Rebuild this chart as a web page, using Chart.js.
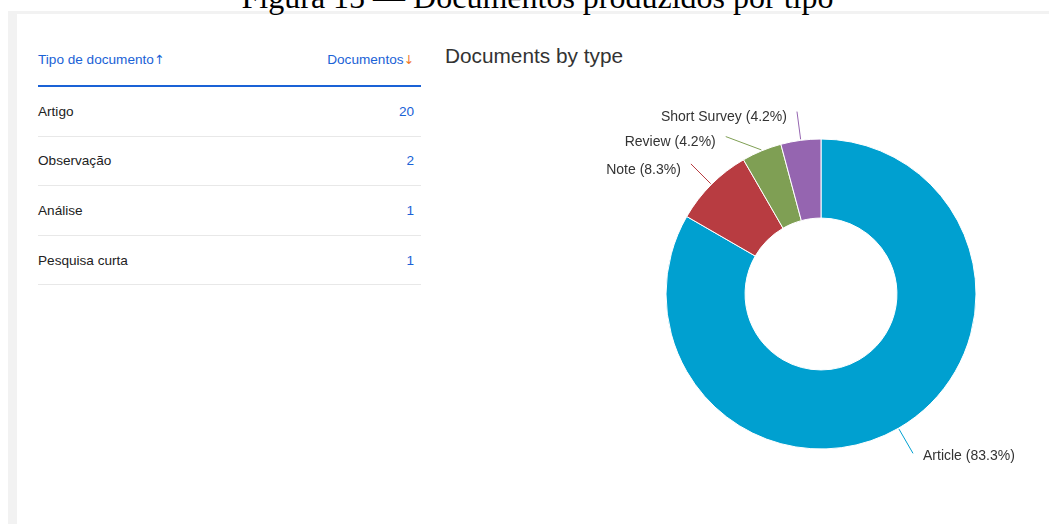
<!DOCTYPE html>
<html>
<head>
<meta charset="utf-8">
<script src="https://cdn.jsdelivr.net/npm/chart.js@4.4.1/dist/chart.umd.min.js"></script>
<style>
  html, body { margin: 0; padding: 0; width: 1049px; height: 524px; overflow: hidden; background: #fff; }
  body { position: relative; font-family: "Liberation Sans", Arial, sans-serif; }
  .fig-title {
    position: absolute; left: 0; top: -19px; width: 1075px; text-align: center;
    font-family: "Liberation Serif", "Times New Roman", serif; font-size: 32px; line-height: 32px;
    color: #000; white-space: nowrap; z-index: 3;
  }
  .frame { position: absolute; left: 8px; top: 11px; right: 0; bottom: 0; background: #f2f2f2; }
  .panel { position: absolute; left: 17px; top: 14px; right: 0; bottom: 0; background: #fff; }
  .doc-table {
    position: absolute; left: 38px; top: 34px; width: 383px;
    border-collapse: collapse; font-size: 13.6px; color: #222;
  }
  .doc-table th {
    height: 51px; padding: 0 7px 0 0; font-weight: normal; color: #1a62d6;
    border-bottom: 2px solid #1a62d6; vertical-align: middle; white-space: nowrap;
  }
  .doc-table th.left, .doc-table td.left { text-align: left; padding-left: 0; }
  .doc-table th.right, .doc-table td.right { text-align: right; }
  .doc-table td { height: 48.6px; padding: 0 7px 0 0; border-bottom: 1px solid #e8e8e8; vertical-align: middle; }
  .doc-table td.right { color: #1a62d6; }
  .arrow { font-family: "DejaVu Sans", sans-serif; font-size: 12.5px; }
  .sort-down { color: #f07a2a; }
  .chart-title {
    position: absolute; left: 445px; top: 44px; font-size: 20.8px; line-height: 24px; color: #333;
  }
  #donut { position: absolute; left: 440px; top: 30px; }
</style>
</head>
<body>
<div class="fig-title">Figura 15 — Documentos produzidos por tipo</div>
<div class="frame"></div>
<div class="panel"></div>
<table class="doc-table" id="docTable"></table>
<div class="chart-title">Documents by type</div>
<canvas id="donut" width="609" height="494"></canvas>

<script>
// table (Portuguese) and chart (English) data
const tableHeader = ['Tipo de documento', 'Documentos'];
const tableTypes  = ['Artigo', 'Observação', 'Análise', 'Pesquisa curta'];
const tableCounts = [20, 2, 1, 1];

const chartLabels = ['Article', 'Note', 'Review', 'Short Survey'];
const chartValues = [20, 2, 1, 1];
const chartColors = ['#00a0d0', '#b83c41', '#7f9f54', '#9565b0'];

function renderTable() {
  const head = `
    <tr>
      <th class="left">${tableHeader[0]}<span class="arrow">↑</span></th>
      <th class="right">${tableHeader[1]}<span class="arrow sort-down">↓</span></th>
    </tr>`;
  const rows = tableTypes.map((name, i) => `
    <tr>
      <td class="left">${name}</td>
      <td class="right">${tableCounts[i]}</td>
    </tr>`).join('');
  document.getElementById('docTable').innerHTML = head + rows;
}

// labels outside the ring with leader lines, stacked so they don't overlap
const outsideLabels = {
  id: 'outsideLabels',
  afterDatasetsDraw(chart) {
    const meta  = chart.getDatasetMeta(0);
    const data  = chart.data.datasets[0].data;
    const total = data.reduce((a, b) => a + b, 0);
    const ctx   = chart.ctx;

    const items = meta.data.map((arc, i) => {
      const p   = arc.getProps(['x', 'y', 'startAngle', 'endAngle', 'outerRadius'], true);
      const mid = (p.startAngle + p.endAngle) / 2;
      const rr  = p.outerRadius + 29;
      return { i, cx: p.x, cy: p.y, mid, r: p.outerRadius, rr,
               right: Math.cos(mid) >= 0, ly: p.y + rr * Math.sin(mid) };
    });

    [true, false].forEach(side => {
      const list = items.filter(it => it.right === side).sort((a, b) => a.ly - b.ly);
      for (let k = 1; k < list.length; k++) {
        if (list[k].ly - list[k - 1].ly < 25) list[k].ly = list[k - 1].ly + 25;
      }
    });

    ctx.save();
    ctx.font = '14px "Liberation Sans", Arial, sans-serif';
    ctx.textBaseline = 'middle';
    items.forEach(it => {
      const dy = Math.max(-it.rr, Math.min(it.rr, it.ly - it.cy));
      const lx = it.cx + Math.sqrt(it.rr * it.rr - dy * dy) * (it.right ? 1 : -1);
      const sx = it.cx + (it.r + 1) * Math.cos(it.mid);
      const sy = it.cy + (it.r + 1) * Math.sin(it.mid);

      ctx.strokeStyle = chartColors[it.i];
      ctx.lineWidth = 1;
      ctx.beginPath();
      ctx.moveTo(sx, sy);
      ctx.lineTo(lx, it.ly);
      ctx.stroke();

      const pct = (data[it.i] / total * 100).toFixed(1);
      ctx.fillStyle = '#333';
      ctx.textAlign = it.right ? 'left' : 'right';
      ctx.fillText(`${chartLabels[it.i]} (${pct}%)`, lx + (it.right ? 10 : -10), it.ly + (it.right ? 3 : 6));
    });
    ctx.restore();
  }
};

function renderDonut() {
  const ctx = document.getElementById('donut');
  new Chart(ctx, {
    type: 'doughnut',
    data: {
      labels: chartLabels,
      datasets: [{
        data: chartValues,
        backgroundColor: chartColors,
        borderColor: '#fff',
        borderWidth: 1,
      }]
    },
    options: {
      responsive: false,
      animation: false,
      events: [],
      radius: 155,
      cutout: '49%',
      layout: { padding: { left: 153, top: 34, right: 0, bottom: 0 } },
      plugins: {
        legend:  { display: false },
        tooltip: { enabled: false },
      }
    },
    plugins: [outsideLabels]
  });
}

renderTable();
renderDonut();
</script>
</body>
</html>
